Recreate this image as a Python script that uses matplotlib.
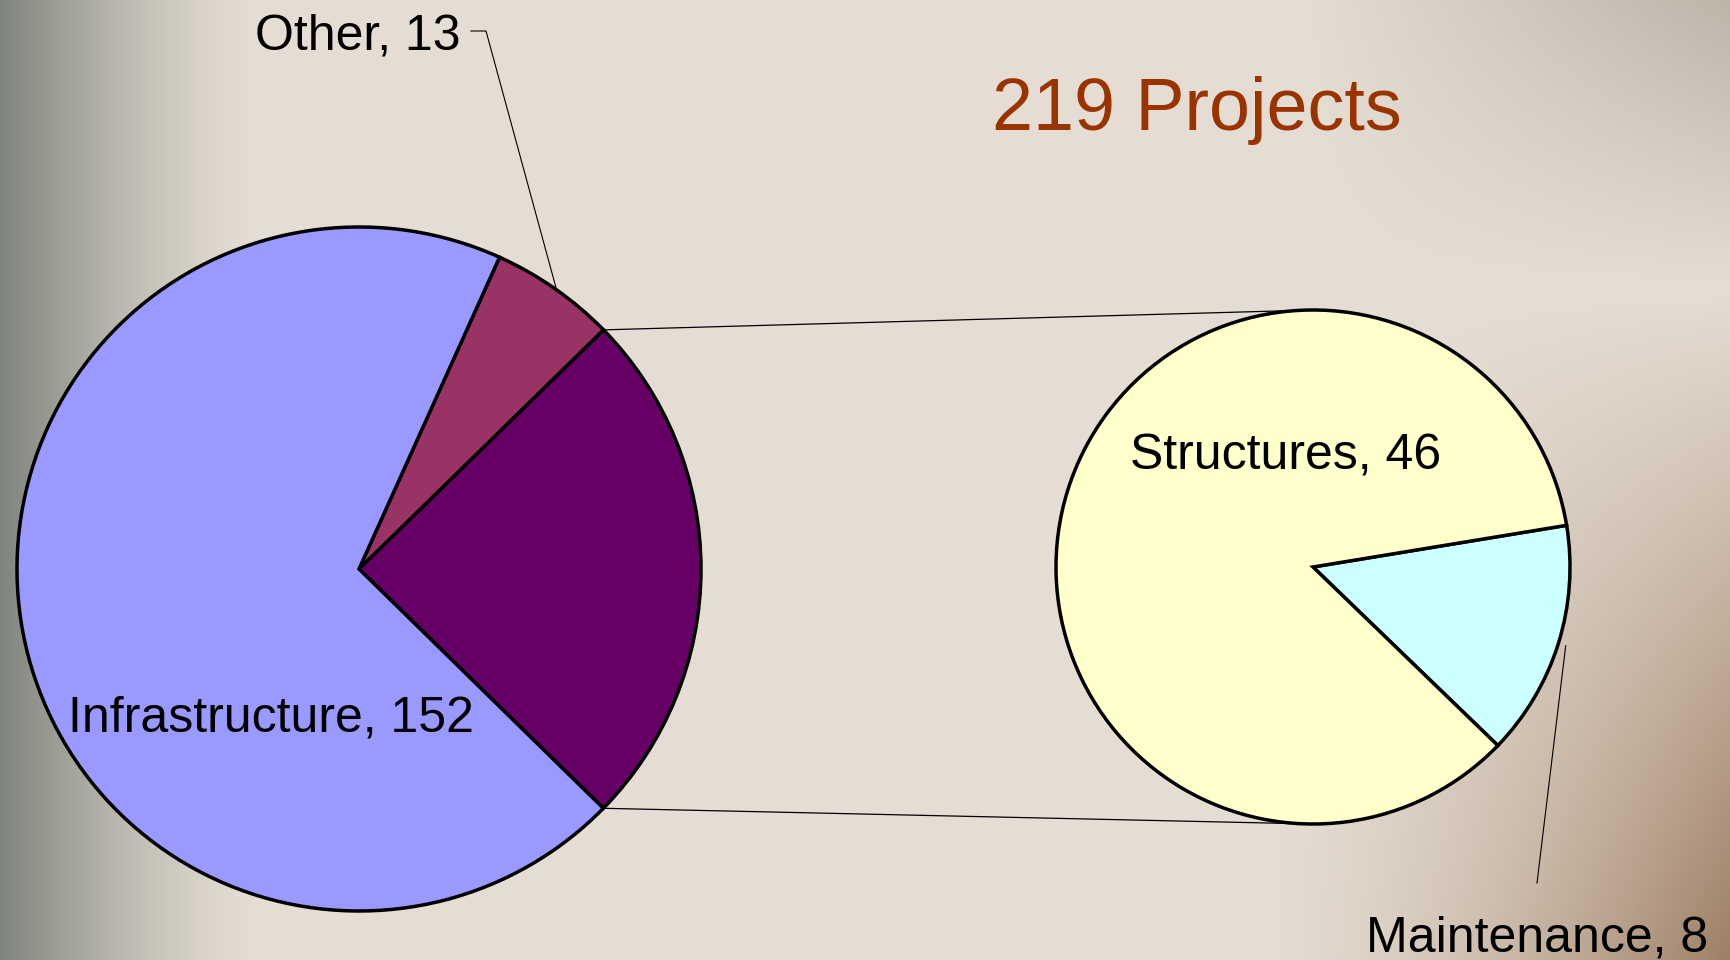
import numpy as np
import matplotlib.pyplot as plt

plt.rcParams['font.family'] = ['Liberation Sans', 'DejaVu Sans']

# ---------------- dados ----------------
main_labels = ['Infrastructure', 'Other']
main_values = [152, 13]
main_colors = ['#9999FF', '#993366']

sub_labels = ['Structures', 'Maintenance']
sub_values = [46, 8]
sub_colors = ['#FFFFCC', '#CCFFFF']
combined_color = '#660066'

total = sum(main_values) + sum(sub_values)

fig = plt.figure(figsize=(17.31, 9.6), dpi=100)
ax = fig.add_axes([0, 0, 1, 1])

# ---------------- fundo (gradiente bege) ----------------
H, W = 240, 433
xx, yy = np.meshgrid(np.linspace(0, 1, W), np.linspace(0, 1, H))
bg = np.ones((H, W, 3)) * np.array([0.90, 0.87, 0.83])
wl = np.clip(1 - xx / 0.15, 0, 1) ** 1.4
wr = np.clip((xx - 0.72) / 0.28, 0, 1) ** 1.5 * np.clip((yy - 0.3) / 0.7, 0, 1)
wt = np.clip((xx - 0.75) / 0.25, 0, 1) * np.clip(1 - yy / 0.3, 0, 1)
for w, c in [(wl, (0.50, 0.52, 0.49)), (wr, (0.62, 0.50, 0.40)), (wt, (0.74, 0.71, 0.66))]:
    bg = bg * (1 - w[..., None]) + np.array(c) * w[..., None]
ax.imshow(bg, extent=[0, 1731, 0, 960], origin='upper', aspect='auto',
          interpolation='bilinear', zorder=0)

# ---------------- pizza principal ----------------
c1, r1 = (359, 391), 342
left_vals = [sum(sub_values), main_values[1], main_values[0]]
w_left, _ = ax.pie(left_vals, colors=[combined_color, main_colors[1], main_colors[0]],
                   startangle=-44.4, center=c1, radius=r1,
                   wedgeprops=dict(edgecolor='black', linewidth=2.5))

# ---------------- pizza secundaria ----------------
c2, r2 = (1313, 393), 257
right_vals = [sub_values[1], sub_values[0]]
w_right, _ = ax.pie(right_vals, colors=[sub_colors[1], sub_colors[0]],
                    startangle=-44, center=c2, radius=r2,
                    wedgeprops=dict(edgecolor='black', linewidth=2.5))

# linhas de ligacao entre as pizzas
for ang, dy in [(w_left[0].theta2, r2), (w_left[0].theta1, -r2)]:
    a = np.deg2rad(ang)
    ax.plot([c1[0] + r1 * np.cos(a), c2[0]], [c1[1] + r1 * np.sin(a), c2[1] + dy],
            color='black', lw=0.9, zorder=1)

# ---------------- rotulos ----------------
fs = 36
ax.text(461, 911, f'{main_labels[1]}, {main_values[1]}', ha='right', va='baseline', fontsize=fs)
a = np.deg2rad((w_left[1].theta1 + w_left[1].theta2) / 2)
ax.plot([471, 486, c1[0] + r1 * 1.005 * np.cos(a)], [929, 929, c1[1] + r1 * 1.005 * np.sin(a)],
        color='black', lw=0.8)

ax.text(68, 229, f'{main_labels[0]}, {main_values[0]}', ha='left', va='baseline', fontsize=fs)
ax.text(1130, 490, f'{sub_labels[0]}, {sub_values[0]}', ha='left', va='baseline', fontsize=fs)
ax.text(1366, 9, f'{sub_labels[1]}, {sub_values[1]}', ha='left', va='baseline', fontsize=fs)
a = np.deg2rad((w_right[0].theta1 + w_right[0].theta2) / 2)
ax.plot([1537, c2[0] + r2 * 1.03 * np.cos(a)], [77, c2[1] + r2 * 1.03 * np.sin(a)],
        color='black', lw=0.8)

ax.text(1197, 830, f'{total} Projects', ha='center', va='baseline', fontsize=53,
        color='#993300')

ax.set_xlim(0, 1731)
ax.set_ylim(0, 960)
ax.set_aspect('auto')
ax.axis('off')

fig.savefig('out.png', dpi=100)
